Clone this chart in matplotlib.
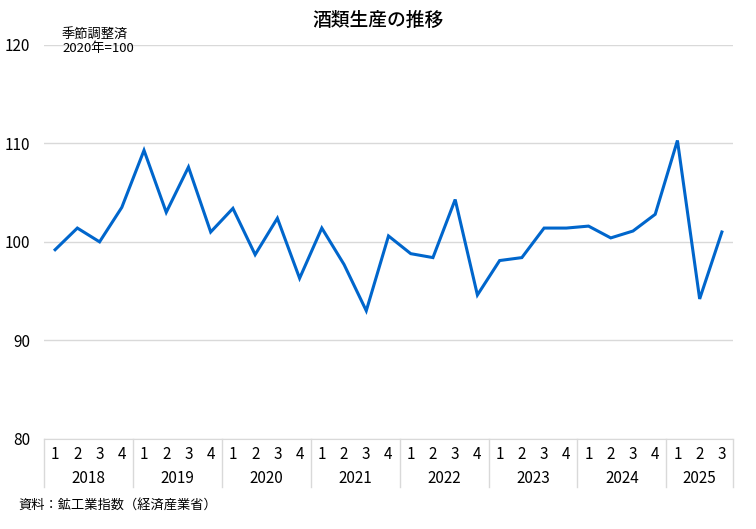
import numpy as np
import matplotlib.pyplot as plt
import matplotlib.transforms as mtransforms

plt.rcParams['font.family'] = ['Noto Sans CJK JP', 'DejaVu Sans']

years = ['2018', '2019', '2020', '2021', '2022', '2023', '2024', '2025']
quarters = ['1', '2', '3', '4'] * 7 + ['1', '2', '3']
values = [99.2, 101.4, 100.0, 103.5,
          109.3, 103.0, 107.6, 101.0,
          103.4, 98.7, 102.4, 96.3,
          101.4, 97.7, 93.0, 100.6,
          98.8, 98.4, 104.3, 94.6,
          98.1, 98.4, 101.4, 101.4,
          101.6, 100.4, 101.1, 102.8,
          110.3, 94.2, 101.0]

grid_color = '#d9d9d9'
line_color = '#0066cc'

fig = plt.figure(figsize=(7.56, 5.29), dpi=100)
ax = fig.add_axes([44 / 756, 1 - 438.7 / 529, 689 / 756, 393.7 / 529])

x = np.arange(len(values))
ax.plot(x, values, color=line_color, linewidth=2.2, solid_joinstyle='miter')

ax.set_xlim(-0.5, len(values) - 0.5)
ax.set_ylim(80, 120)
ax.set_yticks([80, 90, 100, 110, 120])
ax.yaxis.grid(True, color=grid_color, linewidth=1)
ax.set_axisbelow(True)
for side in ['left', 'right', 'top']:
    ax.spines[side].set_visible(False)
ax.spines['bottom'].set_color(grid_color)
ax.tick_params(axis='y', length=0, labelsize=11, pad=10)

# quarter labels
ax.set_xticks(x)
ax.set_xticklabels(quarters, fontsize=11)
ax.tick_params(axis='x', length=0, pad=5)

# year labels and separators
trans = mtransforms.blended_transform_factory(ax.transData, ax.transAxes)
sep_depth = -48 / 393.7
bounds = [-0.5]
for i, yr in enumerate(years):
    start = i * 4
    end = min(start + 4, len(values))
    bounds.append(end - 0.5)
    ax.text((start + end - 1) / 2, -40 / 393.7, yr, transform=trans,
            ha='center', va='center', fontsize=11)
for b in bounds:
    ax.plot([b, b], [0, sep_depth], transform=trans, color=grid_color,
            linewidth=1, clip_on=False)

fig.text(0.5, 1 - 20 / 529, '酒類生産の推移', ha='center', va='center',
         fontsize=13.5, fontweight='medium')
fig.text(62 / 756, 1 - 28 / 529, '季節調整済\n2020年=100', ha='left', va='top',
         fontsize=9.5, linespacing=1.1)
fig.text(18 / 756, 1 - 505 / 529, '資料：鉱工業指数（経済産業省）', ha='left',
         va='center', fontsize=9.5)

fig.savefig('out.png', dpi=100)
